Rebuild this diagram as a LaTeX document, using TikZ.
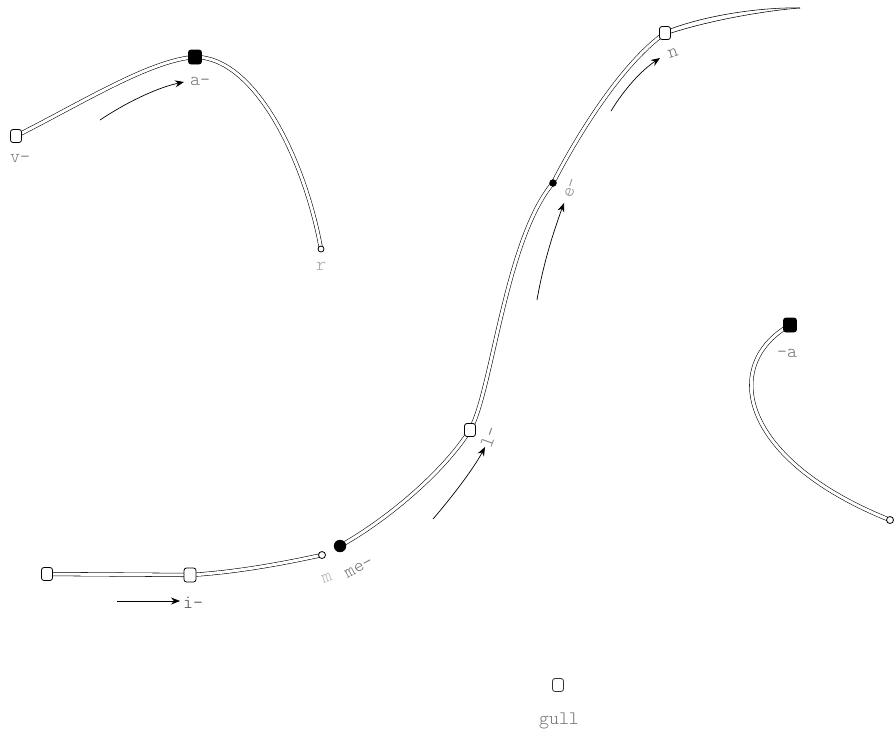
\documentclass[tikz,border=0pt]{standalone}
\usepackage{tikz}
\usetikzlibrary{positioning}
\usetikzlibrary{calc}
\usetikzlibrary{arrows.meta}
\usetikzlibrary{backgrounds}

\tikzset{
    knot/.style={draw, fill=white, rounded corners=2.5pt, minimum width=11pt, minimum height=13pt, inner sep=0pt, line width=0.8pt},
    bknot/.style={knot, fill=black, minimum width=13pt, minimum height=14pt},
    pin/.style={draw, fill=white, circle, minimum size=6pt, inner sep=0pt, line width=0.8pt},
    bdot/.style={circle, fill=black, draw, minimum size=7pt, inner sep=0pt},
    ribbon/.style={double, double distance=3pt, line width=0.55pt},
    lbl/.style={font=\fontsize{19}{19}\selectfont\fontseries{l}\ttfamily, text=black!55, inner sep=0pt},
    move/.style={-{Stealth[length=9pt,width=7pt]}, line width=0.7pt},
}

\begin{document}
\begin{tikzpicture}[x=1pt, y=-1pt]
    \useasboundingbox (0,0) rectangle (896,732);

    % first stroke
    \node[knot] (v) at (16,136) {};
    \node[bknot] (a) at (195,57) {};
    \node[pin] (r) at (321,249) {};

    % long stroke
    \node[knot] (p1) at (47,574) {};
    \node[knot, minimum width=12pt, minimum height=14pt] (p2) at (190,575) {};
    \node[pin, minimum size=7pt] (p3) at (322,555) {};
    \node[bdot, minimum size=12pt] (m) at (340,546) {};
    \node[knot] (l) at (470,430) {};
    \node[bdot] (e) at (553,183) {};
    \node[knot] (n) at (665,33) {};
    \coordinate (tip) at (800,8);

    % third stroke
    \node[bknot] (s) at (790,325) {};
    \node[pin, minimum size=7pt] (t) at (890,520) {};

    \node[knot, draw=black!80] (g) at (558,685) {};

    \begin{scope}[on background layer]
        \draw[ribbon] (v.center) .. controls (80,104) and (150,60) .. (a.center);
        \draw[ribbon] (a.center) .. controls (255,57) and (305,160) .. (r.center);
        \draw[ribbon] (p1.center) -- (p2.center);
        \draw[ribbon] (p2.center) .. controls (240,572) and (290,562) .. (p3.center);
        \draw[ribbon] (m.center) .. controls (390,518) and (445,470) .. (l.center);
        \draw[ribbon] (l.center) .. controls (492,392) and (505,240) .. (e.center);
        \draw[ribbon] (e.center) .. controls (575,140) and (620,65) .. (n.center);
        \draw[line width=0.55pt] ($(n.center)+(0,-2)$) .. controls (710,13) and (770,7) .. (tip);
        \draw[line width=0.55pt] ($(n.center)+(0,2)$) .. controls (712,19) and (772,10) .. (tip);
        \draw[ribbon] (s.center) .. controls (720,365) and (740,460) .. (t.center);
    \end{scope}

    % labels
    \node[lbl] (vl) at (20,158) {v-};
    \node[lbl] (al) at (200,81) {a-};
    \node[lbl, text=black!35] (rl) at (321,266) {r};
    \node[lbl, text=black!70] (il) at (193,603) {i-};
    \node[lbl, text=black!30, rotate=20] (ml) at (327,578) {m};
    \node[lbl, rotate=28] (mel) at (359,568) {me-};
    \node[lbl, rotate=70] (ll) at (489,437) {l-};
    \node[lbl, text=black!45, rotate=72] (el) at (571,188) {e-};
    \node[lbl, rotate=18] (nl) at (673,53) {n};
    \node[lbl] (sl) at (787,353) {-a};
    \node[lbl, text=black!40] (tl) at (900,508) {l};
    \node[lbl, anchor=base] (gl) at (559,724) {gull};

    % arrows
    \coordinate (va0) at (100,120);
    \coordinate (va1) at (184,82);
    \draw[move] (va0) .. controls (130,100) and (160,87) .. (va1);
    \coordinate (vi0) at (117,601);
    \coordinate (vi1) at (180,601);
    \draw[move] (vi0) -- (vi1);
    \coordinate (vl0) at (433,519);
    \coordinate (vl1) at (485,447);
    \draw[move] (vl0) .. controls (452,497) and (474,468) .. (vl1);
    \coordinate (ve0) at (537,300);
    \coordinate (ve1) at (564,203);
    \draw[move] (ve0) .. controls (543,265) and (553,233) .. (ve1);
    \coordinate (vn0) at (611,111);
    \coordinate (vn1) at (660,58);
    \draw[move] (vn0) .. controls (625,88) and (642,70) .. (vn1);
\end{tikzpicture}
\end{document}
